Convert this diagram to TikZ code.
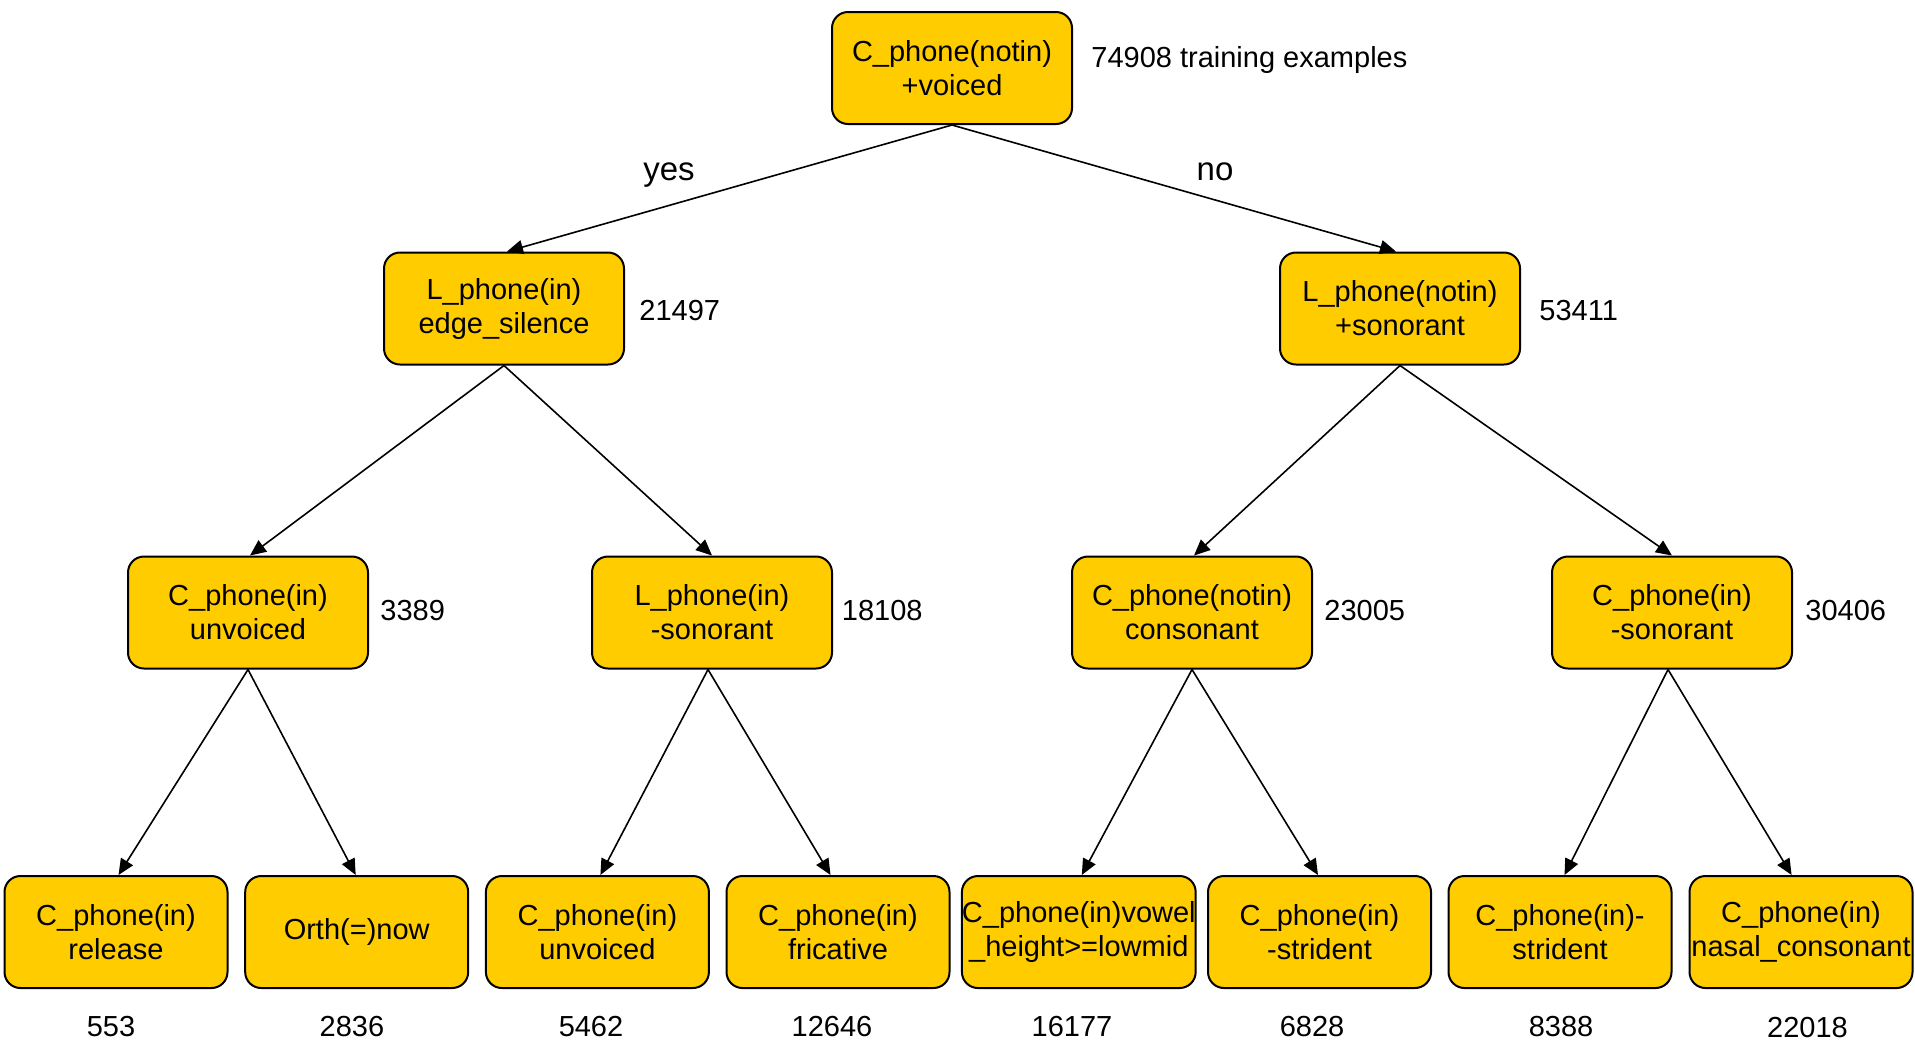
\documentclass[tikz,border=0pt]{standalone}
\usepackage{fontspec}
\setmainfont{Liberation Sans}
\usetikzlibrary{arrows.meta}
\definecolor{boxfill}{RGB}{255,204,0}
\begin{document}
\begin{tikzpicture}[x=0.5pt,y=-0.5pt,
  treebox/.style={draw=black, line width=1pt, fill=boxfill, rounded corners=8pt,
    align=center, inner sep=0pt, font=\fontsize{14.5}{17}\selectfont},
  upper/.style={treebox, minimum width=120pt, minimum height=56pt},
  leaf/.style={treebox, minimum width=111.5pt, minimum height=56pt},
  count/.style={font=\fontsize{14.5}{17}\selectfont, inner sep=0pt},
  answer/.style={font=\fontsize{16.5}{20}\selectfont, inner sep=0pt, anchor=base},
  edge/.style={-{Triangle[length=8pt,width=7pt]}, line width=0.8pt}]
\useasboundingbox (0,0) rectangle (1915,1041);

% root
\node[upper] (root) at (952,68) {C\_phone(notin)\\+voiced};
\node[count, anchor=west] (nroot) at (1091,60) {74908 training examples};

% first split
\node[upper] (l) at (504,308.5) {L\_phone(in)\\edge\_silence};
\node[count, anchor=west] (nl) at (639,311) {21497};
\node[upper] (r) at (1400,308.5) {L\_phone(notin)\\+sonorant};
\node[count, anchor=west] (nr) at (1539,311) {53411};

\node[answer] (yes) at (669,180) {yes};
\node[answer] (no) at (1215,180) {no};

% second split
\node[upper] (ll) at (248,612.5) {C\_phone(in)\\unvoiced};
\node[count, anchor=west] (nll) at (380,610.6) {3389};
\node[upper] (lr) at (712,612.5) {L\_phone(in)\\-sonorant};
\node[count, anchor=west] (nlr) at (841.5,610.6) {18108};
\node[upper] (rl) at (1192,612.5) {C\_phone(notin)\\consonant};
\node[count, anchor=west] (nrl) at (1324,610.6) {23005};
\node[upper] (rr) at (1672,612.5) {C\_phone(in)\\-sonorant};
\node[count, anchor=west] (nrr) at (1805,610.6) {30406};

% leaves
\node[leaf] (a) at (116,932) {C\_phone(in)\\release};
\node[leaf] (b) at (356.7,932) {Orth(=)now};
\node[leaf] (c) at (597.4,932) {C\_phone(in)\\unvoiced};
\node[leaf] (d) at (838,932) {C\_phone(in)\\fricative};
\node[leaf] (e) at (1078.8,932) {C\_phone(in)vowel\\\_height>=lowmid};
\node[leaf] (f) at (1319.5,932) {C\_phone(in)\\-strident};
\node[leaf] (g) at (1560,932) {C\_phone(in)-\\strident};
\node[leaf] (h) at (1801,932) {C\_phone(in)\\nasal\_consonant};

\node[count] (na) at (111,1026) {553};
\node[count] (nb) at (352,1026) {2836};
\node[count] (nc) at (591,1026) {5462};
\node[count] (nd) at (832,1026) {12646};
\node[count] (ne) at (1072,1026) {16177};
\node[count] (nf) at (1312,1026) {6828};
\node[count] (ng) at (1561,1026) {8388};
\node[count] (nh) at (1807.5,1027.5) {22018};

% connectors
\draw[edge] (root.south) -- ([xshift=1.5pt]l.north);
\draw[edge] (root.south) -- ([xshift=-2pt]r.north);
\draw[edge] (l.south) -- ([xshift=1pt]ll.north);
\draw[edge] (l.south) -- (lr.north);
\draw[edge] (r.south) -- ([xshift=1pt]rl.north);
\draw[edge] (r.south) -- (rr.north);
\draw[edge] (ll.south) -- ([xshift=1.25pt]a.north);
\draw[edge] (ll.south) -- ([xshift=-0.5pt]b.north);
\draw[edge] ([xshift=-2pt]lr.south) -- ([xshift=1.5pt]c.north);
\draw[edge] ([xshift=-2pt]lr.south) -- ([xshift=-3.75pt]d.north);
\draw[edge] (rl.south) -- ([xshift=1.5pt]e.north);
\draw[edge] (rl.south) -- ([xshift=-0.75pt]f.north);
\draw[edge] ([xshift=-2pt]rr.south) -- ([xshift=2.25pt]g.north);
\draw[edge] ([xshift=-2pt]rr.south) -- ([xshift=-4.7pt]h.north);
\end{tikzpicture}
\end{document}
